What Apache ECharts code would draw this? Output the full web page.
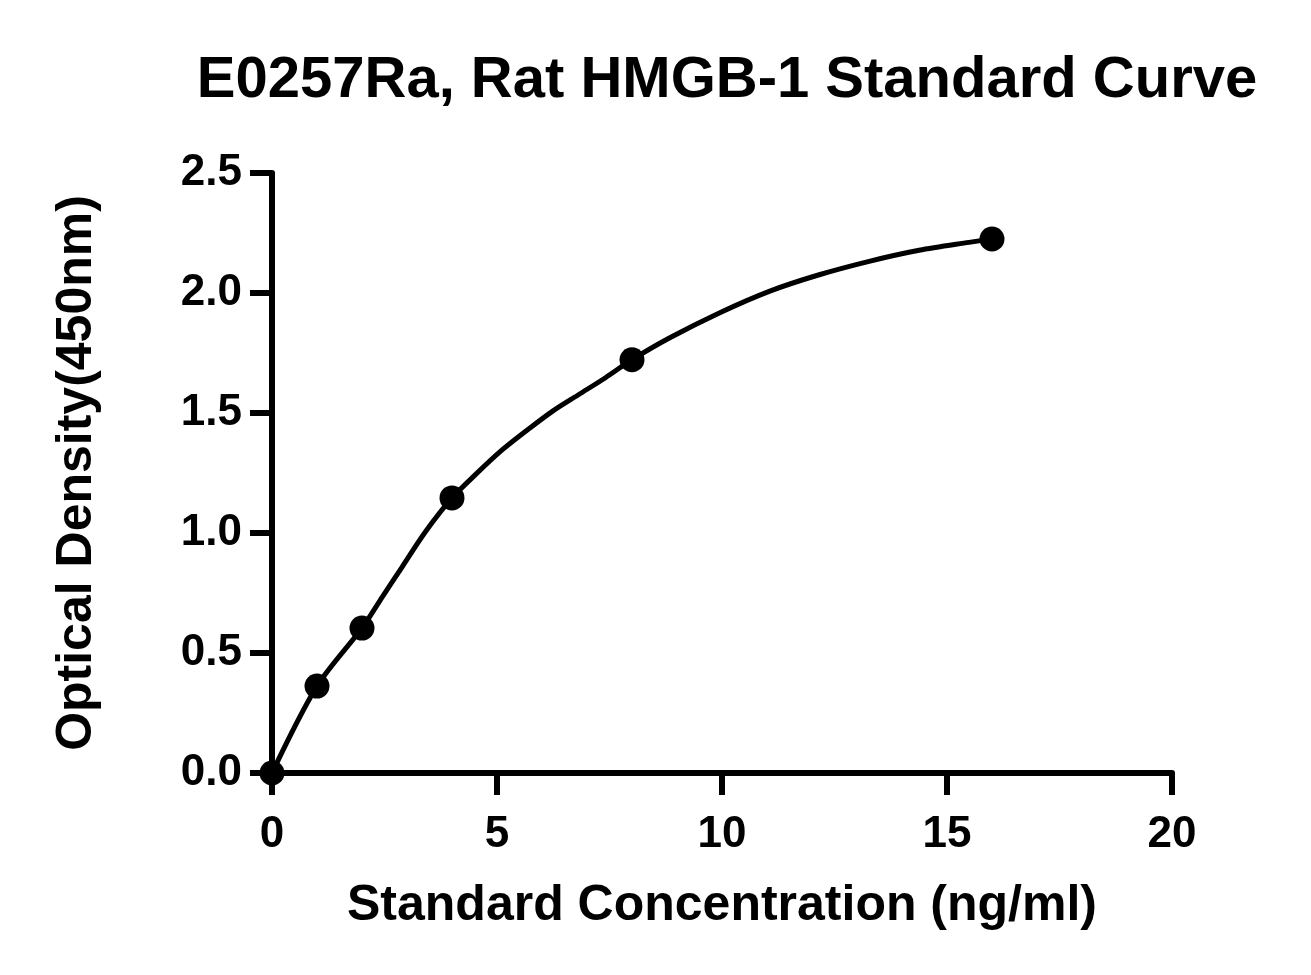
<!DOCTYPE html>
<html>
<head>
<meta charset="utf-8">
<script src="https://cdn.jsdelivr.net/npm/echarts@6/dist/echarts.min.js"></script>
<style>html,body{margin:0;padding:0;background:#fff}#c{width:1311px;height:975px}</style>
</head>
<body>
<div id="c"></div>
<script>
const concentrations = [0, 1, 2, 4, 8, 16];
const odValues = [0.0, 0.362, 0.604, 1.146, 1.722, 2.225];
const curveX = [0, 1, 2, 2.46, 2.89, 3.41, 4, 4.52, 5.12, 5.70, 6.23, 6.81, 7.41, 8, 8.83, 9.94, 11.05, 12.16, 13.27, 14.38, 15.49, 16];
const curveY = [0, 0.362, 0.604, 0.736, 0.858, 1.005, 1.146, 1.243, 1.347, 1.433, 1.507, 1.576, 1.647, 1.722, 1.8125, 1.917, 2.007, 2.076, 2.132, 2.178, 2.211, 2.225];
const xTicks = [0, 5, 10, 15, 20];
const yTicks = [0, 0.5, 1.0, 1.5, 2.0, 2.5];

const font = '"Liberation Sans", Arial, sans-serif';
const chart = echarts.init(document.getElementById('c'));
chart.setOption({
  animation: false,
  backgroundColor: '#fff',
  title: {
    text: 'E0257Ra, Rat HMGB-1 Standard Curve',
    left: 722, textAlign: 'center', top: 47,
    textStyle: {fontFamily: font, fontWeight: 'bold', fontSize: 58, color: '#000'}
  },
  grid: {left: 272, right: 139, top: 173, bottom: 202, containLabel: false},
  xAxis: {
    type: 'value', min: xTicks[0], max: xTicks[xTicks.length-1], interval: 5,
    name: 'Standard Concentration (ng/ml)', nameLocation: 'middle', nameGap: 108,
    nameTextStyle: {fontFamily: font, fontWeight: 'bold', fontSize: 50, color: '#000'},
    axisLine: {lineStyle: {color: '#000', width: 6}},
    axisTick: {show: true, length: 22, lineStyle: {color: '#000', width: 6}},
    axisLabel: {margin: 40, fontFamily: font, fontWeight: 'bold', fontSize: 44, color: '#000'},
    splitLine: {show: false}
  },
  yAxis: {
    type: 'value', min: yTicks[0], max: yTicks[yTicks.length-1], interval: 0.5,
    name: 'Optical Density(450nm)', nameLocation: 'middle', nameGap: 170,
    nameTextStyle: {fontFamily: font, fontWeight: 'bold', fontSize: 50, color: '#000'},
    axisLine: {show: true, lineStyle: {color: '#000', width: 6}},
    axisTick: {show: true, length: 22, lineStyle: {color: '#000', width: 6}},
    axisLabel: {margin: 30, fontFamily: font, fontWeight: 'bold', fontSize: 44, color: '#000',
      formatter: v => v.toFixed(1)},
    splitLine: {show: false}
  },
  series: [
    {
      type: 'line', data: curveX.map((x, i) => [x, curveY[i]]),
      smooth: 0.3, showSymbol: false, symbol: 'none',
      lineStyle: {color: '#000', width: 5}, z: 2
    },
    {
      type: 'scatter', data: concentrations.map((x, i) => [x, odValues[i]]),
      symbol: 'circle', symbolSize: 25, itemStyle: {color: '#000', opacity: 1}, z: 3
    }
  ]
});
</script>
</body>
</html>
